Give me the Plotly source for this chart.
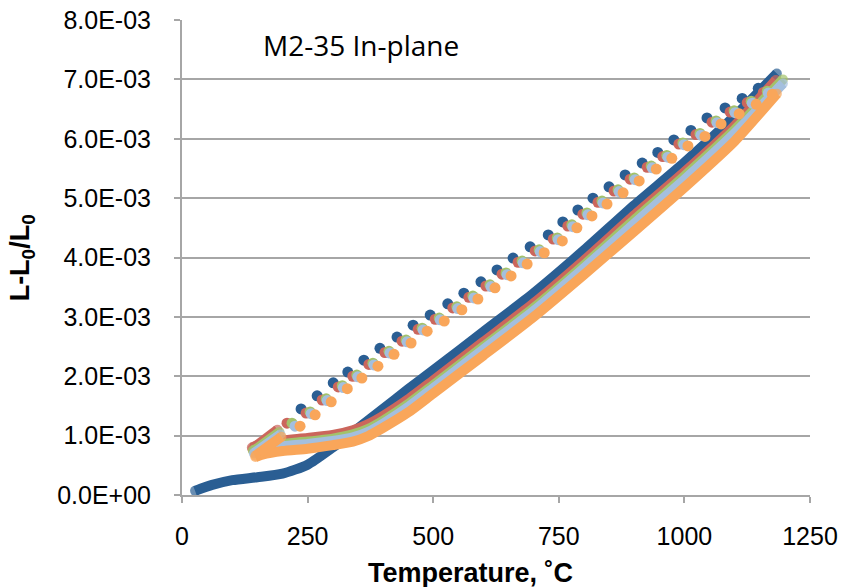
import numpy as np
import plotly.graph_objects as go

# Strain values are given in units of 1e-3 (L-L0)/L0; temperatures in deg C.

# ---- heating runs (dense data drawn as thick lines) ----
blue_heat_T = [26, 60, 100, 150, 200, 250, 300, 350, 400, 450, 500, 600, 700, 800, 900, 1000, 1100, 1184]
blue_heat_e = [0.07, 0.17, 0.25, 0.30, 0.36, 0.51, 0.80, 1.12, 1.45, 1.78, 2.10, 2.75, 3.40, 4.12, 4.88, 5.60, 6.38, 7.10]

red_heat_T = [139, 160, 200, 250, 300, 340, 370, 400, 450, 500, 600, 700, 800, 900, 1000, 1100, 1182]
red_heat_e = [0.80, 0.87, 0.92, 0.96, 1.01, 1.09, 1.19, 1.33, 1.61, 1.93, 2.58, 3.23, 3.95, 4.71, 5.44, 6.22, 6.99]

green_heat_T = [141, 160, 200, 250, 300, 340, 370, 400, 450, 500, 600, 700, 800, 900, 1000, 1100, 1196]
green_heat_e = [0.75, 0.81, 0.86, 0.90, 0.95, 1.02, 1.11, 1.25, 1.53, 1.85, 2.50, 3.15, 3.87, 4.63, 5.37, 6.15, 7.00]

lblue_heat_T = [143, 160, 200, 250, 300, 340, 370, 400, 450, 500, 600, 700, 800, 900, 1000, 1100, 1196]
lblue_heat_e = [0.70, 0.76, 0.82, 0.86, 0.91, 0.97, 1.06, 1.20, 1.48, 1.80, 2.45, 3.10, 3.82, 4.57, 5.31, 6.09, 6.93]

orange_heat_T = [146, 160, 200, 250, 300, 340, 370, 400, 450, 500, 600, 700, 800, 900, 1000, 1100, 1184]
orange_heat_e = [0.64, 0.68, 0.74, 0.78, 0.84, 0.90, 0.99, 1.13, 1.39, 1.71, 2.35, 3.00, 3.71, 4.44, 5.18, 5.96, 6.76]

# ---- cooling runs (sparse readings drawn as dots) ----
blue_cool_T = [1147, 1115, 1081, 1045, 1013, 979, 947, 916, 882, 850, 818, 788, 758, 729, 693,
               659, 627, 595, 561, 529, 494, 460, 428, 394, 362, 330, 301, 269, 237]
blue_cool_e = [6.85, 6.68, 6.52, 6.35, 6.14, 5.98, 5.77, 5.59, 5.39, 5.19, 5.00, 4.80, 4.60, 4.38, 4.18,
               3.99, 3.79, 3.59, 3.40, 3.22, 3.03, 2.86, 2.66, 2.47, 2.27, 2.07, 1.89, 1.67, 1.45]

red_cool_T = [1157, 1125, 1091, 1055, 1023, 989, 957, 926, 892, 860, 828, 798, 768, 739, 703,
              669, 637, 605, 571, 539, 504, 470, 438, 404, 372, 340, 311, 279, 247, 209]
red_cool_e = [6.78, 6.61, 6.45, 6.28, 6.07, 5.91, 5.70, 5.52, 5.32, 5.12, 4.93, 4.73, 4.53, 4.31, 4.11,
              3.92, 3.72, 3.52, 3.33, 3.15, 2.96, 2.79, 2.59, 2.40, 2.20, 2.00, 1.82, 1.60, 1.38, 1.21]

green_cool_T = [1165, 1133, 1099, 1063, 1031, 997, 965, 934, 900, 868, 836, 806, 776, 747, 711,
                677, 645, 613, 579, 547, 512, 478, 446, 412, 380, 348, 319, 287, 255, 219]
green_cool_e = [6.80, 6.63, 6.47, 6.30, 6.09, 5.93, 5.72, 5.54, 5.34, 5.14, 4.95, 4.75, 4.55, 4.33, 4.13,
                3.94, 3.74, 3.54, 3.35, 3.17, 2.98, 2.81, 2.61, 2.42, 2.22, 2.02, 1.84, 1.62, 1.40, 1.21]

lblue_cool_T = [1167, 1135, 1101, 1065, 1033, 999, 967, 936, 902, 870, 838, 808, 778, 749, 713,
                679, 647, 615, 581, 549, 514, 480, 448, 414, 382, 350, 321, 289, 257, 225]
lblue_cool_e = [6.77, 6.60, 6.44, 6.27, 6.06, 5.90, 5.69, 5.51, 5.31, 5.11, 4.92, 4.72, 4.52, 4.30, 4.10,
                3.91, 3.71, 3.51, 3.32, 3.14, 2.95, 2.78, 2.58, 2.39, 2.19, 1.99, 1.81, 1.59, 1.37, 1.16]

orange_cool_T = [1175, 1143, 1109, 1073, 1041, 1007, 975, 944, 910, 878, 846, 816, 786, 757, 721,
                 687, 655, 623, 589, 557, 522, 488, 456, 422, 390, 358, 329, 297, 265, 235]
orange_cool_e = [6.75, 6.58, 6.42, 6.25, 6.04, 5.88, 5.67, 5.49, 5.29, 5.09, 4.90, 4.70, 4.50, 4.28, 4.08,
                 3.89, 3.69, 3.49, 3.30, 3.12, 2.93, 2.76, 2.56, 2.37, 2.17, 1.97, 1.79, 1.57, 1.35, 1.16]

# ---- end of cooling (dense readings again below ~200 C) ----
red_tail_T = [190, 165, 140]
red_tail_e = [1.10, 0.93, 0.78]
green_tail_T = [194, 168, 142]
green_tail_e = [1.06, 0.89, 0.74]
lblue_tail_T = [196, 170, 144]
lblue_tail_e = [1.02, 0.86, 0.71]
orange_tail_T = [198, 172, 146]
orange_tail_e = [0.98, 0.82, 0.66]

x_ticks = [0, 250, 500, 750, 1000, 1250]
y_ticks = [0, 1, 2, 3, 4, 5, 6, 7, 8]
y_tick_text = ["0.0E+00", "1.0E-03", "2.0E-03", "3.0E-03", "4.0E-03",
               "5.0E-03", "6.0E-03", "7.0E-03", "8.0E-03"]

BLUE = "#2A5E93"
RED = "#CB665C"
GREEN = "#A3C26A"
LBLUE = "#A4BFDE"
ORANGE = "#F9A65A"

SCALE = 1e-3
LINE_W = 10
DOT = 11

series = [
    (BLUE, blue_heat_T, blue_heat_e, blue_cool_T, blue_cool_e, None, None),
    (RED, red_heat_T, red_heat_e, red_cool_T, red_cool_e, red_tail_T, red_tail_e),
    (GREEN, green_heat_T, green_heat_e, green_cool_T, green_cool_e, green_tail_T, green_tail_e),
    (LBLUE, lblue_heat_T, lblue_heat_e, lblue_cool_T, lblue_cool_e, lblue_tail_T, lblue_tail_e),
    (ORANGE, orange_heat_T, orange_heat_e, orange_cool_T, orange_cool_e, orange_tail_T, orange_tail_e),
]


def round_ends(n, size):
    # markers only at both ends so the thick line gets rounded caps
    s = [0] * n
    s[0] = size
    s[-1] = size
    return s


fig = go.Figure()
for color, hT, he, cT, ce, tT, te in series:
    fig.add_trace(go.Scatter(
        x=hT, y=np.array(he) * SCALE, mode="lines+markers",
        line=dict(color=color, width=LINE_W, shape="spline", smoothing=0.6),
        marker=dict(color=color, size=round_ends(len(hT), LINE_W), line=dict(width=0)),
        showlegend=False, hoverinfo="skip", cliponaxis=False))
    fig.add_trace(go.Scatter(
        x=cT, y=np.array(ce) * SCALE, mode="markers",
        marker=dict(color=color, size=DOT, line=dict(width=0)),
        showlegend=False, hoverinfo="skip"))
    if tT is not None:
        fig.add_trace(go.Scatter(
            x=tT, y=np.array(te) * SCALE, mode="lines+markers",
            line=dict(color=color, width=LINE_W),
            marker=dict(color=color, size=round_ends(len(tT), LINE_W), line=dict(width=0)),
            showlegend=False, hoverinfo="skip"))

AXIS_GREY = "#A6A6A6"
SANS = "Liberation Sans, Arial, sans-serif"
NARROW = "Liberation Sans Narrow, Liberation Sans, Arial, sans-serif"

fig.update_layout(
    width=842, height=587,
    margin=dict(l=182, r=32, t=20, b=92, autoexpand=False),
    paper_bgcolor="white", plot_bgcolor="white",
    xaxis=dict(
        range=[0, 1250], tickvals=x_ticks, ticktext=[str(v) for v in x_ticks],
        automargin=False,
        showgrid=False, zeroline=False, showline=True, linecolor=AXIS_GREY, linewidth=2,
        ticks="outside", ticklen=6, tickwidth=2, tickcolor=AXIS_GREY,
        tickfont=dict(family=NARROW, size=25, color="#000000"), ticklabelstandoff=12),
    yaxis=dict(
        range=[0, 8 * SCALE], tickvals=[v * SCALE for v in y_ticks], ticktext=y_tick_text,
        automargin=False,
        showgrid=True, gridcolor=AXIS_GREY, gridwidth=2, zeroline=False,
        showline=True, linecolor=AXIS_GREY, linewidth=2,
        ticks="outside", ticklen=6, tickwidth=2, tickcolor=AXIS_GREY,
        tickfont=dict(family=SANS, size=25, color="#000000"), ticklabelstandoff=18),
    annotations=[
        dict(text="M2-35 In-plane", xref="paper", yref="paper", x=0.285, y=0.947,
             showarrow=False, xanchor="center", yanchor="middle",
             font=dict(family="Open Sans, sans-serif", size=28, color="#000000")),
        dict(text="<b>Temperature, ˚C</b>", xref="paper", yref="paper", x=0.46, y=-0.165,
             showarrow=False, xanchor="center", yanchor="middle",
             font=dict(family=NARROW, size=27, color="#000000")),
        dict(text="<b>L-L<sub>0</sub>/L<sub>0</sub></b>", xref="paper", yref="paper",
             x=-0.255, y=0.5, textangle=-90, showarrow=False,
             xanchor="center", yanchor="middle",
             font=dict(family=NARROW, size=27, color="#000000")),
    ],
)

fig.write_html("out.html")
